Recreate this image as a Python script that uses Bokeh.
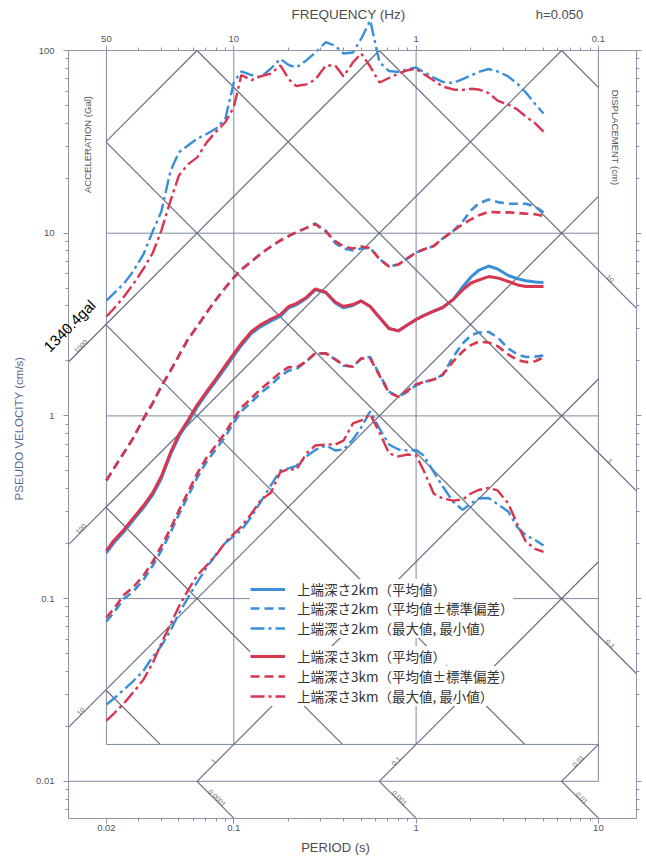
import math
from bokeh.plotting import figure
from bokeh.models import (FixedTicker, LogAxis, Label, Legend, LegendItem,
                          Range1d, CustomJSTickFormatter)
from bokeh.core.properties import value
from bokeh.embed import file_html
from bokeh.resources import INLINE

# ---------------- data ----------------
PERIOD = [0.02, 0.022, 0.025, 0.028, 0.032, 0.036, 0.04, 0.045, 0.05, 0.056, 0.063, 0.071, 0.08, 0.09,
          0.1, 0.11, 0.125, 0.14, 0.16, 0.18, 0.2, 0.22, 0.25, 0.28, 0.32, 0.36, 0.4, 0.45, 0.5, 0.56,
          0.63, 0.71, 0.8, 0.9, 1.0, 1.1, 1.25, 1.4, 1.6, 1.8, 2.0, 2.2, 2.5, 2.8, 3.2, 3.6, 4.0, 4.5, 5.0]

# top depth 2 km (blue)
B_MEAN = [0.178, 0.202, 0.233, 0.268, 0.315, 0.371, 0.454, 0.615, 0.771, 0.920,
          1.12, 1.33, 1.56, 1.84, 2.13, 2.43, 2.83, 3.07, 3.31, 3.50,
          3.90, 4.05, 4.40, 4.90, 4.74, 4.15, 3.90, 4.02, 4.26, 3.97,
          3.46, 3.01, 2.92, 3.15, 3.37, 3.54, 3.75, 3.92, 4.34, 5.08,
          5.76, 6.25, 6.61, 6.37, 5.87, 5.63, 5.49, 5.41, 5.37]
B_UP = [0.443, 0.516, 0.631, 0.752, 0.968, 1.18, 1.45, 1.77, 2.14, 2.62,
        3.09, 3.68, 4.34, 5.04, 5.72, 6.33, 7.00, 7.69, 8.46, 9.12,
        9.65, 10.1, 10.7, 11.3, 10.3, 8.83, 8.25, 8.04, 8.25, 8.30,
        7.22, 6.57, 6.74, 7.31, 7.84, 8.14, 8.51, 9.35, 10.3, 11.6,
        13.3, 14.5, 15.3, 14.8, 14.5, 14.5, 14.5, 14.0, 13.0]
B_LO = [0.0750, 0.0840, 0.100, 0.109, 0.127, 0.152, 0.183, 0.230, 0.289, 0.362,
        0.460, 0.563, 0.659, 0.771, 0.920, 1.06, 1.19, 1.33, 1.48, 1.65,
        1.77, 1.80, 1.99, 2.20, 2.20, 2.04, 1.88, 1.86, 2.06, 2.10,
        1.68, 1.36, 1.27, 1.36, 1.47, 1.53, 1.58, 1.68, 2.11, 2.49,
        2.76, 2.86, 2.88, 2.69, 2.34, 2.17, 2.10, 2.11, 2.14]
B_MAX = [4.28, 4.68, 5.31, 6.17, 7.69, 10.3, 13.1, 22.0, 27.7, 30.2,
         32.9, 34.9, 37.4, 42.5, 66.8, 76.8, 73.4, 71.4, 79.7, 89.9,
         83.3, 80.7, 88.2, 97.5, 111.0, 106.0, 96.3, 97.5, 116.0, 146.0,
         86.3, 77.2, 76.3, 79.2, 80.7, 76.3, 71.1, 67.3, 66.4, 69.7,
         73.0, 76.3, 79.2, 76.8, 72.1, 65.6, 58.9, 50.9, 45.2]
B_MIN = [0.0263, 0.0284, 0.0318, 0.0352, 0.0404, 0.0482, 0.0550, 0.0669, 0.0829, 0.101,
         0.123, 0.148, 0.175, 0.202, 0.220, 0.237, 0.281, 0.336, 0.418, 0.503,
         0.516, 0.532, 0.600, 0.651, 0.689, 0.647, 0.655, 0.743, 0.864, 1.06,
         0.853, 0.697, 0.655, 0.647, 0.651, 0.607, 0.493, 0.411, 0.338, 0.306,
         0.332, 0.353, 0.355, 0.329, 0.300, 0.245, 0.222, 0.209, 0.195]

# top depth 3 km (red)
R_MEAN = [0.183, 0.208, 0.239, 0.275, 0.323, 0.381, 0.466, 0.631, 0.791, 0.944,
          1.15, 1.36, 1.60, 1.89, 2.19, 2.49, 2.90, 3.15, 3.39, 3.59,
          3.97, 4.12, 4.45, 4.96, 4.74, 4.20, 3.97, 4.07, 4.26, 3.97,
          3.46, 3.01, 2.92, 3.15, 3.37, 3.54, 3.75, 3.92, 4.34, 4.89,
          5.34, 5.54, 5.79, 5.69, 5.44, 5.21, 5.11, 5.11, 5.11]
R_UP = [0.443, 0.516, 0.631, 0.752, 0.968, 1.18, 1.45, 1.77, 2.14, 2.62,
        3.09, 3.68, 4.34, 5.04, 5.72, 6.33, 7.00, 7.69, 8.46, 9.12,
        9.65, 10.1, 10.7, 11.2, 10.2, 9.06, 8.46, 8.25, 8.46, 8.30,
        7.22, 6.57, 6.74, 7.31, 7.84, 8.14, 8.51, 9.35, 10.3, 11.2,
        11.9, 12.5, 13.1, 13.0, 13.0, 12.9, 12.8, 12.7, 12.4]
R_LO = [0.0788, 0.0883, 0.105, 0.115, 0.134, 0.160, 0.193, 0.242, 0.304, 0.381,
        0.484, 0.592, 0.693, 0.811, 0.968, 1.11, 1.25, 1.40, 1.56, 1.73,
        1.85, 1.84, 1.99, 2.20, 2.20, 2.04, 1.90, 1.86, 2.06, 2.06,
        1.66, 1.34, 1.27, 1.38, 1.49, 1.53, 1.58, 1.68, 1.99, 2.25,
        2.44, 2.55, 2.52, 2.41, 2.17, 2.02, 1.97, 1.99, 2.09]
R_MAX = [3.50, 3.87, 4.50, 5.24, 6.41, 7.84, 10.3, 15.1, 20.7, 23.8,
         26.0, 31.4, 36.0, 40.6, 48.9, 73.4, 68.9, 72.1, 74.8, 82.8,
         69.8, 63.9, 65.2, 69.4, 82.8, 82.8, 72.1, 86.0, 96.3, 81.7,
         66.8, 70.7, 74.8, 78.2, 79.2, 74.3, 68.5, 63.5, 61.2, 60.8,
         61.7, 61.2, 58.5, 53.2, 50.6, 47.5, 43.5, 39.9, 36.0]
R_MIN = [0.0215, 0.0235, 0.0267, 0.0306, 0.0361, 0.0447, 0.0568, 0.0726, 0.0905, 0.111,
         0.134, 0.152, 0.173, 0.204, 0.226, 0.248, 0.292, 0.344, 0.381, 0.493,
         0.512, 0.506, 0.623, 0.689, 0.697, 0.697, 0.733, 0.909, 0.944, 1.02,
         0.811, 0.623, 0.600, 0.615, 0.607, 0.503, 0.375, 0.353, 0.344, 0.349,
         0.376, 0.393, 0.404, 0.391, 0.332, 0.254, 0.205, 0.187, 0.180]

LEGEND_LABELS = ["上端深さ2km（平均値）", "上端深さ2km（平均値±標準偏差）", "上端深さ2km（最大値, 最小値）",
                 "上端深さ3km（平均値）", "上端深さ3km（平均値±標準偏差）", "上端深さ3km（最大値, 最小値）"]

PERIOD_MAJOR = [0.02, 0.1, 1.0, 10.0]
PERIOD_LABELS = ["0.02", "0.1", "1", "10"]
PERIOD_MINOR = [k * 10.0 ** e for e in (-2, -1, 0) for k in range(2, 10) if not (e == -2 and k == 2)]
FREQ_MAJOR = [50, 10, 1, 0.1]
FREQ_LABELS = ["50", "10", "1", "0.1"]
VEL_MAJOR = [0.01, 0.1, 1.0, 10.0, 100.0]
VEL_LABELS = ["0.01", "0.1", "1", "10", "100"]

ACC_GRID = [0.1, 1, 10, 100, 1000, 10000]            # gal
DISP_GRID = [0.0001, 0.001, 0.01, 0.1, 1, 10, 100]   # cm
ACC_LEFT = [10, 100, 1000]
ACC_LEFT_LABELS = ["10", "100", "1000"]
DISP_RIGHT = [0.1, 1, 10]
DISP_RIGHT_LABELS = ["0.1", "1", "10"]
ACC_BOTTOM = [1, 0.1, 0.01]
ACC_BOTTOM_LABELS = ["1", "0.1", "0.01"]
DISP_BOTTOM = [0.0001, 0.001, 0.01]
DISP_BOTTOM_LABELS = ["0.0001", "0.001", "0.01"]
PGA_MAX = 1340.4

# ---------------- layout ----------------
TWO_PI = 2 * math.pi
W, H = 645, 858
PXX, PXY = 182.3, 182.7          # pixels per decade
X_REF, Y_REF = 233.3, 50.0       # pixel of T=0.1 s and of v=100 cm/s
T_OUT = (0.0124, 16.2)           # outer frame of the tripartite grid
V_OUT = (TWO_PI * 0.001, 100.0)
T_IN = (0.02, 10.0)
V_TOP = 100.0
V_IN_BOT = 0.1 / TWO_PI
V_STRIP = 0.01
LEGEND_ROWS_PX = [588, 607.7, 627.4, 655.5, 675.2, 694.9]
LEGEND_X_PX = 250
LEGEND_FONT_PX = 13.5


def T_at(px):
    return 0.1 * 10 ** ((px - X_REF) / PXX)


def V_at(py):
    return 100.0 * 10 ** (-(py - Y_REF) / PXY)


def acc_v(a, t):
    return a * t / TWO_PI


def disp_v(d, t):
    return TWO_PI * d / t


AXIS_COLOR = "#8b94a8"
GRID_COLOR = "#7f889c"
DIAG_COLOR = "#686f7f"
TXT = "#4d4d4d"
FONT = "Liberation Sans"
BLUE = "#3a8fd8"
RED = "#d8354f"

p = figure(width=W, height=H, x_axis_type="log", y_axis_type="log",
           x_range=Range1d(T_at(0), T_at(W)), y_range=Range1d(V_at(H), V_at(0)),
           output_backend="svg", toolbar_location=None, title=None,
           min_border_left=0, min_border_right=0, min_border_top=0, min_border_bottom=0,
           background_fill_color="white", border_fill_color="white")
p.xgrid.visible = False
p.ygrid.visible = False
p.outline_line_color = None


def fmt(tick_values, tick_labels):
    return CustomJSTickFormatter(args=dict(tv=tick_values, tl=tick_labels), code="""
        for (let i = 0; i < tv.length; i++) {
            if (Math.abs(Math.log10(tick) - Math.log10(tv[i])) < 1e-6) return tl[i];
        }
        return '';
    """)


def style_axis(ax):
    ax.axis_line_color = AXIS_COLOR
    ax.major_tick_line_color = AXIS_COLOR
    ax.minor_tick_line_color = AXIS_COLOR
    ax.major_tick_in = 0
    ax.minor_tick_in = 0
    ax.major_tick_out = 5
    ax.minor_tick_out = 3
    ax.major_label_text_font = FONT
    ax.major_label_text_font_size = "9.5px"
    ax.major_label_text_color = "#555555"


VEL_MINOR = [k * 10.0 ** e for e in (-3, -2, -1, 0, 1) for k in range(2, 10)
             if V_OUT[0] <= k * 10.0 ** e <= V_TOP]
FREQ_T = [1.0 / f for f in FREQ_MAJOR]

# bottom: period axis
xa = p.xaxis[0]
style_axis(xa)
xa.ticker = FixedTicker(ticks=PERIOD_MAJOR, minor_ticks=PERIOD_MINOR)
xa.formatter = fmt(PERIOD_MAJOR, PERIOD_LABELS)
xa.major_label_standoff = 2
xa.fixed_location = V_OUT[0]
xa.bounds = T_OUT

# left: pseudo velocity axis
ya = p.yaxis[0]
style_axis(ya)
ya.ticker = FixedTicker(ticks=VEL_MAJOR, minor_ticks=VEL_MINOR)
ya.formatter = fmt(VEL_MAJOR, VEL_LABELS)
ya.major_label_standoff = 9
ya.fixed_location = T_OUT[0]
ya.bounds = V_OUT

# right: velocity ticks only
ra = LogAxis(ticker=FixedTicker(ticks=VEL_MAJOR, minor_ticks=VEL_MINOR), bounds=V_OUT,
             fixed_location=T_OUT[1])
style_axis(ra)
ra.formatter = CustomJSTickFormatter(code="return '';")
ra.major_label_standoff = 0
p.add_layout(ra, "right")

# top: frequency axis on the v = 100 line
ta = LogAxis(ticker=FixedTicker(ticks=FREQ_T, minor_ticks=PERIOD_MINOR), bounds=T_OUT,
             fixed_location=V_TOP)
style_axis(ta)
ta.formatter = fmt(FREQ_T, FREQ_LABELS)
ta.major_label_standoff = 4
p.add_layout(ta, "above")

# ---------------- rectilinear grid ----------------
G = ([], [], [], [])


def add(lst, t0, v0, t1, v1):
    lst[0].append(t0); lst[1].append(v0); lst[2].append(t1); lst[3].append(v1)


add(G, T_IN[0], V_IN_BOT, T_IN[0], V_TOP)
add(G, T_IN[1], V_STRIP, T_IN[1], V_TOP)
add(G, T_IN[0], V_IN_BOT, T_IN[1], V_IN_BOT)
add(G, T_OUT[0], V_STRIP, T_IN[1], V_STRIP)
for v in (0.1, 1.0, 10.0):
    add(G, T_IN[0], v, T_IN[1], v)
for t in (0.1, 1.0):
    add(G, t, V_IN_BOT, t, V_TOP)
p.segment(*G, line_color=GRID_COLOR, line_width=1)

# ---------------- tripartite diagonals ----------------
D = ([], [], [], [])
for a in ACC_GRID:
    lo = max(T_IN[0], TWO_PI * V_IN_BOT / a)
    hi = min(T_IN[1], TWO_PI * V_TOP / a)
    if lo < hi:
        add(D, lo, acc_v(a, lo), hi, acc_v(a, hi))
for d in DISP_GRID:
    lo = max(T_IN[0], TWO_PI * d / V_TOP)
    hi = min(T_IN[1], TWO_PI * d / V_IN_BOT)
    if lo < hi:
        add(D, lo, disp_v(d, lo), hi, disp_v(d, hi))
for a in ACC_LEFT:
    add(D, T_OUT[0], acc_v(a, T_OUT[0]), T_IN[0], acc_v(a, T_IN[0]))
for d in DISP_RIGHT:
    add(D, T_IN[1], disp_v(d, T_IN[1]), T_OUT[1], disp_v(d, T_OUT[1]))
for a in ACC_BOTTOM:
    add(D, TWO_PI * V_STRIP / a, V_STRIP, TWO_PI * V_IN_BOT / a, V_IN_BOT)
for d in DISP_BOTTOM:
    add(D, TWO_PI * d / V_STRIP, V_STRIP, TWO_PI * d / V_OUT[0], V_OUT[0])
p.segment(*D, line_color=DIAG_COLOR, line_width=1.2)

small = dict(text_font=value(FONT), text_font_size="7px", text_color="#666666",
             text_align="center", text_baseline="bottom")
tl_ = T_at(82)
p.text([tl_] * 3, [acc_v(a, tl_) for a in ACC_LEFT], text=ACC_LEFT_LABELS, angle=math.pi / 4, **small)
tr_ = T_at(608)
p.text([tr_] * 3, [disp_v(d, tr_) for d in DISP_RIGHT], text=DISP_RIGHT_LABELS, angle=-math.pi / 4, **small)
vm1 = math.sqrt(V_STRIP * V_IN_BOT)
p.text([TWO_PI * vm1 / a for a in ACC_BOTTOM], [vm1] * 3, text=ACC_BOTTOM_LABELS, angle=math.pi / 4, **small)
vm2 = math.sqrt(V_STRIP * V_OUT[0])
p.text([TWO_PI * d / vm2 for d in DISP_BOTTOM], [vm2] * 3, text=DISP_BOTTOM_LABELS, angle=-math.pi / 4, **small)

# ---------------- spectra ----------------
def group(vm, vu, vl, vmax, vmin, color):
    r1 = p.line(PERIOD, vm, line_color=color, line_width=3)
    r2 = p.line(PERIOD, vu, line_color=color, line_width=2.6, line_dash="9 5")
    p.line(PERIOD, vl, line_color=color, line_width=2.6, line_dash="9 5")
    r3 = p.line(PERIOD, vmax, line_color=color, line_width=2.4, line_dash="14 4 3 4")
    p.line(PERIOD, vmin, line_color=color, line_width=2.4, line_dash="14 4 3 4")
    return [r1, r2, r3]


rends = group(B_MEAN, B_UP, B_LO, B_MAX, B_MIN, BLUE) + group(R_MEAN, R_UP, R_LO, R_MAX, R_MIN, RED)

# legend: one row per Legend so the row pitch matches; lower rows first so upper boxes stay on top
leg_style = dict(orientation="vertical", glyph_width=35, glyph_height=18, label_height=18,
                 label_standoff=12, spacing=0, padding=5, margin=0,
                 background_fill_color="white", background_fill_alpha=1.0, border_line_color=None,
                 label_text_font="Noto Sans CJK JP", label_text_font_size=f"{LEGEND_FONT_PX}px",
                 label_text_color="#333333")
for i in reversed(range(6)):
    row_y = LEGEND_ROWS_PX[i]
    p.add_layout(Legend(items=[LegendItem(label=LEGEND_LABELS[i], renderers=[rends[i]])],
                        location=(LEGEND_X_PX, H - (row_y + 10.6)), **leg_style))

# ---------------- titles / annotations ----------------
def lab(px, py, text, size, angle=0.0, color=TXT):
    p.add_layout(Label(x=T_at(px), y=V_at(py), text=text, angle=angle, text_font=FONT,
                       text_font_size=size, text_color=color, text_align="center",
                       text_baseline="middle"))


lab(348, 14, "FREQUENCY (Hz)", "13.5px")
lab(559, 14, "h=0.050", "13px")
lab(335, 847, "PERIOD (s)", "13px")
lab(18, 428, "PSEUDO VELOCITY (cm/s)", "11.5px", angle=math.pi / 2, color="#5a6890")
lab(86.5, 144, "ACCELERATION (Gal)", "9.5px", angle=math.pi / 2, color="#555555")
lab(615, 137, "DISPLACEMENT (cm)", "9.5px", angle=-math.pi / 2, color="#555555")

tp = T_at(75)
p.add_layout(Label(x=tp, y=acc_v(PGA_MAX, tp), text="1340.4gal", angle=math.pi / 4, text_font=FONT,
                   text_font_size="15px", text_color="black", text_align="center", text_baseline="bottom"))

open("out.html", "w").write(file_html(p, INLINE))
